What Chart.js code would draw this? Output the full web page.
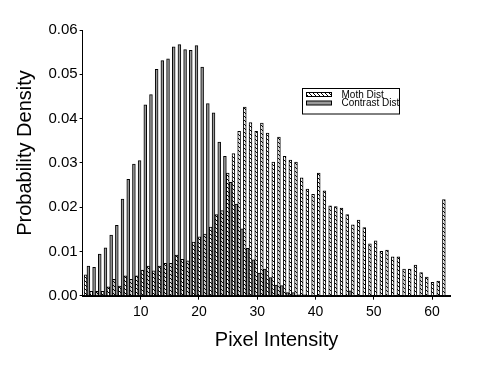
<!DOCTYPE html>
<html>
<head>
<meta charset="utf-8">
<script src="https://cdn.jsdelivr.net/npm/chart.js@4/dist/chart.umd.min.js"></script>
<style>
  html, body { margin: 0; padding: 0; background: #fff; }
  canvas { display: block; }
</style>
</head>
<body>
<canvas id="histChart" width="479" height="367"></canvas>
<script>
// pixel intensity bins
const bins = Array.from({ length: 64 }, (_, i) => i)

// probability density per bin
const mothDist = [
  0.0047, 0.0010, 0.0010, 0.0010, 0.0020, 0.0037, 0.0022, 0.0045, 0.0037, 0.0045,
  0.0058, 0.0067, 0.0056, 0.0067, 0.0073, 0.0073, 0.0092, 0.0082, 0.0079, 0.0121,
  0.0133, 0.0139, 0.0155, 0.0183, 0.0192, 0.0277, 0.0321, 0.0371, 0.0426, 0.0391,
  0.0371, 0.0390, 0.0367, 0.0302, 0.0358, 0.0315, 0.0306, 0.0302, 0.0266, 0.0241,
  0.0229, 0.0277, 0.0237, 0.0203, 0.0201, 0.0198, 0.0183, 0.0160, 0.0171, 0.0154,
  0.0117, 0.0124, 0.0100, 0.0103, 0.0088, 0.0088, 0.0060, 0.0060, 0.0069, 0.0052,
  0.0042, 0.0030, 0.0033, 0.0217
]
const contrastDist = [
  0.0067, 0.0064, 0.0094, 0.0108, 0.0137, 0.0159, 0.0218, 0.0263, 0.0297, 0.0305,
  0.0431, 0.0454, 0.0511, 0.0531, 0.0535, 0.0562, 0.0567, 0.0556, 0.0554, 0.0565,
  0.0516, 0.0434, 0.0413, 0.0347, 0.0315, 0.0256, 0.0207, 0.0151, 0.0107, 0.0081,
  0.0051, 0.0060, 0.0041, 0.0024, 0.0023, 0.0007, 0.0007, 0.0002, 0.0002, 0.0001,
  0, 0, 0, 0, 0, 0, 0.0011, 0, 0, 0,
  0, 0, 0, 0, 0, 0, 0, 0, 0, 0,
  0, 0, 0, 0
]

const yTicks = [0, 0.01, 0.02, 0.03, 0.04, 0.05, 0.06]

const FONT = '"Liberation Sans", Arial, sans-serif'

function makeHatch() {
  const c = document.createElement('canvas')
  c.width = 4; c.height = 4
  const g = c.getContext('2d')
  g.fillStyle = '#fff'
  g.fillRect(0, 0, 4, 4)
  g.fillStyle = '#000'
  for (let i = 0; i < 4; i++) g.fillRect(i, i, 1, 1)
  return g.createPattern(c, 'repeat')
}

// legend box + axis titles, placed like the original
const extras = {
  id: 'extras',
  afterDraw(chart) {
    const ctx = chart.ctx
    ctx.save()
    ctx.fillStyle = '#fff'
    ctx.strokeStyle = '#000'
    ctx.lineWidth = 1
    ctx.fillRect(302.5, 88.5, 97, 25.5)
    ctx.strokeRect(302.5, 88.5, 97, 25.5)
    chart.data.datasets.forEach((ds, i) => {
      const y = 92.5 + i * 8.5
      ctx.fillStyle = ds.backgroundColor
      ctx.fillRect(306.5, y, 25, 4)
      ctx.strokeRect(306.5, y, 25, 4)
      ctx.fillStyle = '#000'
      ctx.font = '10px ' + FONT
      ctx.textBaseline = 'middle'
      ctx.fillText(ds.label, 341.5, y + 2.5)
    })

    ctx.fillStyle = '#000'
    ctx.font = '20px ' + FONT
    ctx.textAlign = 'center'
    ctx.textBaseline = 'middle'
    ctx.fillText('Pixel Intensity', 276.5, 340)
    ctx.translate(25, 153)
    ctx.rotate(-Math.PI / 2)
    ctx.fillText('Probability Density', 0, 0)
    ctx.restore()
  }
}

const ctx = document.getElementById('histChart')
new Chart(ctx, {
  type: 'bar',
  data: {
    datasets: [{
      label: 'Moth Dist',
      data: bins.map((b, i) => ({ x: b, y: mothDist[i] })),
      backgroundColor: makeHatch(),
      borderColor: '#000',
      borderWidth: 1,
      categoryPercentage: 1.0,
      barPercentage: 1.0
    }, {
      label: 'Contrast Dist',
      data: bins.map((b, i) => ({ x: b, y: contrastDist[i] })),
      backgroundColor: '#9a9a9a',
      borderColor: '#000',
      borderWidth: 1,
      categoryPercentage: 1.0,
      barPercentage: 1.0
    }]
  },
  options: {
    responsive: false,
    animation: false,
    layout: { padding: { left: 0, right: 28.3, top: 30, bottom: 0 } },
    plugins: { legend: { display: false }, tooltip: { enabled: false } },
    scales: {
      x: {
        type: 'linear', display: false, offset: false,
        min: -0.77, max: 63.95
      },
      xt: {
        type: 'linear', position: 'bottom', offset: false,
        min: 0.03, max: 63.2,
        afterFit: s => { s.height = 71.3 },
        border: { display: true, color: '#000', width: 2 },
        grid: { offset: false, drawOnChartArea: false, drawTicks: true, tickLength: 4, color: '#000' },
        ticks: { stepSize: 10, includeBounds: false, padding: 4, color: '#000', font: { family: FONT, size: 14 } }
      },
      y: {
        min: 0, max: 0.06,
        afterFit: s => { s.width = 82.6 },
        afterBuildTicks: s => { s.ticks = yTicks.map(v => ({ value: v })) },
        border: { display: true, color: '#000', width: 1 },
        grid: { drawOnChartArea: false, drawTicks: true, tickLength: 3, color: '#000' },
        ticks: { padding: 2, color: '#000', font: { family: FONT, size: 15 }, callback: v => v.toFixed(2) }
      }
    }
  },
  plugins: [extras]
})
</script>
</body>
</html>
